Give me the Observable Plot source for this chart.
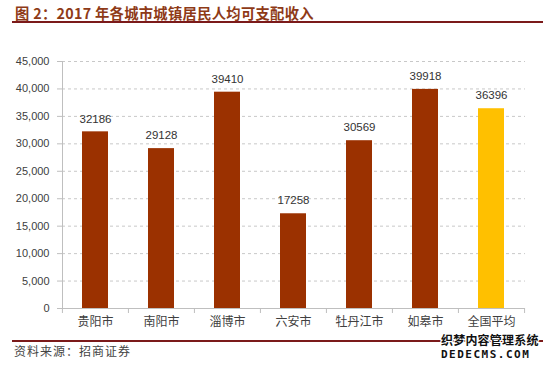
<!DOCTYPE html>
<html>
<head>
<meta charset="utf-8">
<script src="https://cdn.jsdelivr.net/npm/d3@7"></script>
<script src="https://cdn.jsdelivr.net/npm/@observablehq/plot@0.6"></script>
<style>
  body { margin: 0; background: #fff; }
  #wrap { position: relative; width: 550px; height: 369px; overflow: hidden; background: #fff; }
  #wrap svg { position: absolute; left: 0; top: 0; }
  .title { position: absolute; left: 15px; top: 4px; font-family: "Noto Sans CJK SC", sans-serif; font-weight: bold; font-size: 14.3px; color: #8E3A17; white-space: nowrap; letter-spacing: 0.3px; line-height: 1.2; }
  .rule { position: absolute; left: 12px; width: 531px; height: 2px; background: #7B1A1A; }
  .source { position: absolute; left: 14px; top: 344px; font-family: "Noto Sans CJK SC", sans-serif; font-size: 12px; color: #444; white-space: nowrap; letter-spacing: 1px; line-height: 1.2; }
  .wm { position: absolute; left: 441px; font-family: "Noto Sans CJK SC", sans-serif; font-weight: bold; color: #111; white-space: nowrap; line-height: 1;
        text-shadow: -1px 0 #fff, 1px 0 #fff, 0 -1px #fff, 0 1px #fff, 1px 1px #fff, -1px -1px #fff, 1px -1px #fff, -1px 1px #fff; }
</style>
</head>
<body>
<div id="wrap">
  <div class="title">图 2：2017 年各城市城镇居民人均可支配收入</div>
  <div class="rule" style="top:21px"></div>
  <div class="rule" style="top:340px"></div>
  <div class="source">资料来源：招商证券</div>
  <div class="wm" style="top:334px;font-size:12px;letter-spacing:0.2px">织梦内容管理系统</div>
  <div class="wm" style="top:349px;font-size:11px;letter-spacing:1.5px;font-family:'DejaVu Sans Mono',monospace">DEDECMS.COM</div>
</div>
<script>
const cities = ["贵阳市", "南阳市", "淄博市", "六安市", "牡丹江市", "如皋市", "全国平均"];
const incomes = [32186, 29128, 39410, 17258, 30569, 39918, 36396];
const barColors = ["#9B3100", "#9B3100", "#9B3100", "#9B3100", "#9B3100", "#9B3100", "#FFC000"];
const yTicks = [0, 5000, 10000, 15000, 20000, 25000, 30000, 35000, 40000, 45000];

const data = cities.map((c, i) => ({city: c, value: incomes[i], color: barColors[i]}));

const W = 550, H = 369;
const mL = 62, mR = 25, mT = 61, mB = 61;
const halfStep = (W - mL - mR) / cities.length / 2;

const chart = Plot.plot({
  width: W,
  height: H,
  marginLeft: mL,
  marginRight: mR,
  marginTop: mT,
  marginBottom: mB,
  style: {fontFamily: "'Liberation Sans', 'Noto Sans CJK SC', sans-serif", fontSize: "11px", color: "#404040", background: "transparent"},
  x: {domain: cities, paddingInner: 0.6, paddingOuter: 0.3, label: null},
  y: {domain: [0, 45000], label: null},
  color: {type: "identity"},
  marks: [
    Plot.gridY(yTicks, {stroke: "#c8c8c8", strokeOpacity: 1, strokeDasharray: "3,3"}),
    Plot.axisY({ticks: yTicks, tickFormat: d3.format(","), tickSize: 5, tickPadding: 8, stroke: "#bfbfbf", fontSize: 11, label: null}),
    Plot.barY(data, {x: "city", y: "value", fill: "color"}),
    Plot.text(data, {x: "city", y: "value", text: d => String(d.value), dy: -13, fontSize: 11.5, fill: "#333"}),
    Plot.ruleY([0], {stroke: "#bfbfbf"}),
    Plot.frame({anchor: "left", stroke: "#bfbfbf"}),
    Plot.axisX({tickSize: 0, tickPadding: 9, fontSize: 12, fontFamily: "'Noto Sans CJK SC', sans-serif", fill: "#404040", label: null}),
    Plot.axisX({tickSize: 5, dx: -halfStep, tickFormat: () => "", stroke: "#bfbfbf", label: null}),
    Plot.axisX({ticks: [cities[cities.length - 1]], tickSize: 5, dx: halfStep, tickFormat: () => "", stroke: "#bfbfbf", label: null})
  ]
});
document.getElementById("wrap").prepend(chart);
</script>
</body>
</html>
